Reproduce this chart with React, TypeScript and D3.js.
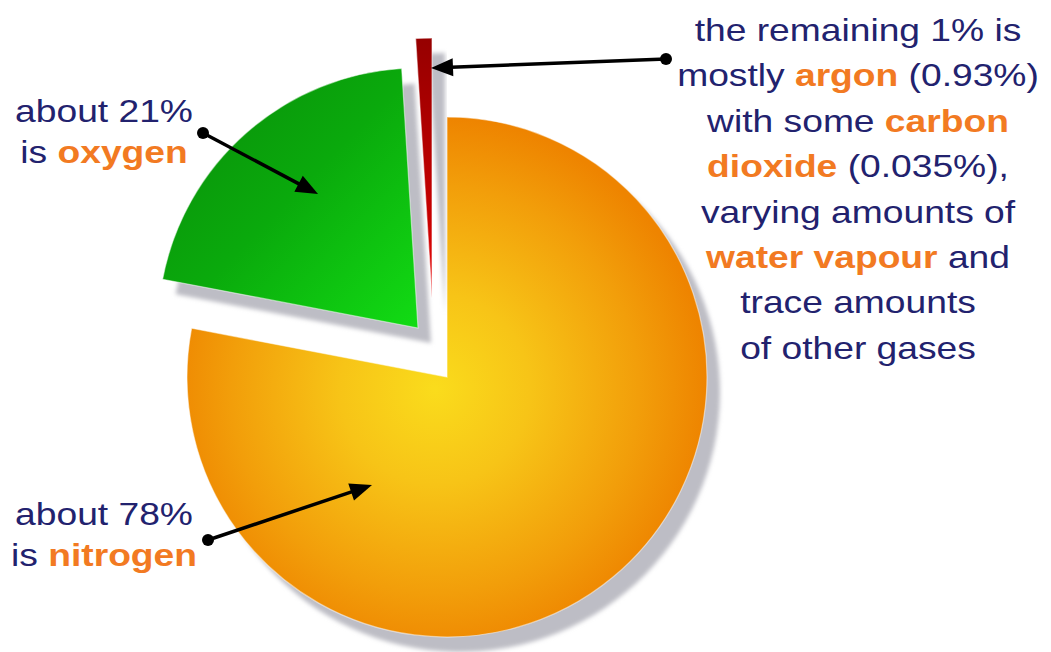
import React from "react";
import * as d3 from "d3";

// ---- data ----
const gases = ["nitrogen", "oxygen", "argon and other gases"];
const percents = [78, 21, 1];
const sliceColors = ["url(#gOrange)", "url(#gGreen)", "url(#gRed)"];

type Seg = { t: string; em?: boolean };
const oxygenLabel: Seg[][] = [[{ t: "about 21%" }], [{ t: "is " }, { t: "oxygen", em: true }]];
const nitrogenLabel: Seg[][] = [[{ t: "about 78%" }], [{ t: "is " }, { t: "nitrogen", em: true }]];
const otherLabel: Seg[][] = [
  [{ t: "the remaining 1% is" }],
  [{ t: "mostly " }, { t: "argon", em: true }, { t: " (0.93%)" }],
  [{ t: "with some " }, { t: "carbon", em: true }],
  [{ t: "dioxide", em: true }, { t: " (0.035%)," }],
  [{ t: "varying amounts of" }],
  [{ t: "water vapour", em: true }, { t: " and" }],
  [{ t: "trace amounts" }],
  [{ t: "of other gases" }],
];

// ---- layout / style ----
const W = 1051, H = 652;
const cx = 447, cy = 377, R = 260;
const explode = [[0, 0], [-29, -49], [-15, -79]];
const shadowOff = [13, 15];
const NAVY = "#22226e";
const ORANGE = "#f27a22";
const FS = 31;
const SX = 1.2;

function Label({ lines, x, y0, dy }: { lines: Seg[][]; x: number; y0: number; dy: number }) {
  return (
    <g>
      {lines.map((segs, i) => (
        <text
          key={i}
          transform={`translate(${x},${y0 + i * dy}) scale(${SX},1)`}
          textAnchor="middle"
          fontFamily="'Liberation Sans', Arial, sans-serif"
          fontSize={FS}
          fill={NAVY}
        >
          {segs.map((s, j) => (
            <tspan key={j} fill={s.em ? ORANGE : NAVY} fontWeight={s.em ? "bold" : "normal"}>
              {s.t}
            </tspan>
          ))}
        </text>
      ))}
    </g>
  );
}

function Arrow({ x1, y1, x2, y2 }: { x1: number; y1: number; x2: number; y2: number }) {
  const dx = x2 - x1, dy = y2 - y1;
  const L = Math.hypot(dx, dy);
  const ux = dx / L, uy = dy / L;
  const hl = 22, hw = 9;
  const bx = x2 - ux * hl, by = y2 - uy * hl;
  const pts = [
    [x2, y2],
    [bx - uy * hw, by + ux * hw],
    [bx + uy * hw, by - ux * hw],
  ];
  return (
    <g>
      <line x1={x1} y1={y1} x2={bx + ux * 2} y2={by + uy * 2} stroke="#000" strokeWidth={3.5} />
      <polygon points={pts.map((p) => p.join(",")).join(" ")} fill="#000" />
      <circle cx={x1} cy={y1} r={6} fill="#000" />
    </g>
  );
}

export default function App() {
  const pie = d3.pie<number>().sort(null).startAngle(0).endAngle(2 * Math.PI);
  const arcs = pie(percents);
  const arc = d3.arc<d3.PieArcDatum<number>>().innerRadius(0).outerRadius(R);

  return (
    <svg
      width={W}
      height={H}
      style={{ position: "absolute", left: 0, top: 0, background: "#fff" }}
    >
      <defs>
        <radialGradient id="gOrange" gradientUnits="userSpaceOnUse" cx={-12} cy={12} r={R + 12}>
          <stop offset="0" stopColor="#fadc1c" />
          <stop offset="0.35" stopColor="#f7c417" />
          <stop offset="0.75" stopColor="#f29e0a" />
          <stop offset="1" stopColor="#ee8400" />
        </radialGradient>
        <linearGradient id="gGreen" x1="0" y1="0" x2="1" y2="1">
          <stop offset="0" stopColor="#0a8a0a" />
          <stop offset="0.5" stopColor="#0aaa0c" />
          <stop offset="1" stopColor="#12dc14" />
        </linearGradient>
        <linearGradient id="gRed" x1="0" y1="0" x2="0" y2="1">
          <stop offset="0" stopColor="#960000" />
          <stop offset="0.7" stopColor="#c80000" />
          <stop offset="1" stopColor="#ee1010" />
        </linearGradient>
        <filter id="blur" x="-10%" y="-10%" width="120%" height="120%">
          <feGaussianBlur stdDeviation="2" />
        </filter>
      </defs>

      {arcs.map((a, i) => (
        <g key={gases[i]} transform={`translate(${cx + explode[i][0]},${cy + explode[i][1]})`}>
          <path
            d={arc(a) || ""}
            transform={`translate(${shadowOff[0]},${shadowOff[1]})`}
            fill="#bdbdc5"
            filter="url(#blur)"
          />
          <path d={arc(a) || ""} fill={sliceColors[i]} stroke="#ffffff" strokeOpacity={0.5} strokeWidth={1.2} />
        </g>
      ))}

      <Label lines={oxygenLabel} x={104} y0={122} dy={41} />
      <Label lines={nitrogenLabel} x={104} y0={525} dy={41} />
      <Label lines={otherLabel} x={858} y0={41} dy={45.4} />

      <Arrow x1={203} y1={133} x2={318} y2={194} />
      <Arrow x1={208} y1={540} x2={372} y2={485} />
      <Arrow x1={666} y1={59} x2={431} y2={68} />
    </svg>
  );
}
